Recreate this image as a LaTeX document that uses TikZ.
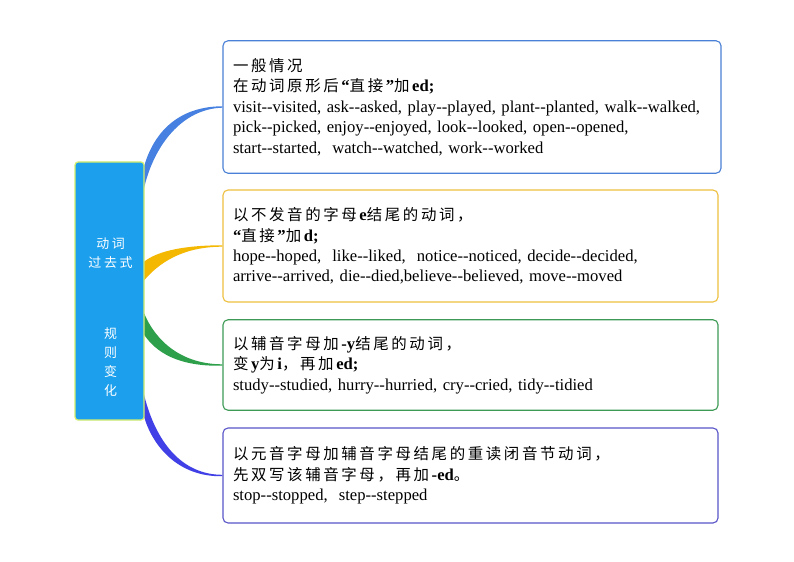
\documentclass[tikz,border=0pt]{standalone}
\usepackage{fontspec}
\setmainfont{Liberation Serif}
\newfontfamily\cjkfont[LetterSpace=17]{Noto Sans CJK SC}
\newfontfamily\cjkwide[LetterSpace=20]{Noto Sans CJK SC}
\usetikzlibrary{calc,backgrounds}
\newcommand\dd{-\kern0pt-}
\newcommand\zh[1]{{\fontsize{15.5}{20.5}\cjkfont #1}}
\definecolor{mainfill}{HTML}{1CA0EE}
\definecolor{mainedge}{HTML}{D5EE6B}
\definecolor{cblue}{HTML}{4680E0}
\definecolor{eblue}{HTML}{4A80D6}
\definecolor{cyellow}{HTML}{F4B800}
\definecolor{eyellow}{HTML}{EEC040}
\definecolor{cgreen}{HTML}{2E9F4B}
\definecolor{egreen}{HTML}{3D9A55}
\definecolor{cpurple}{HTML}{4040E6}
\definecolor{epurple}{HTML}{5A55C8}
\begin{document}
\begin{tikzpicture}[x=1bp,y=-1bp,
  box/.style={draw, rounded corners=5bp, line width=1.1bp, fill=white, align=left,
    inner sep=0pt, font=\fontsize{16.7}{20.5}\selectfont},
  mainbox/.style={draw=mainedge, fill=mainfill, rounded corners=3bp, line width=1.2bp,
    minimum width=69bp, minimum height=258bp, inner sep=0pt},
  maintext/.style={text=white, align=center, font=\fontsize{13}{19}\cjkwide}]
\useasboundingbox (0,0) rectangle (794,562);

\node[mainbox] (main) at (109.5,291) {};
\node[maintext] (mtext) at (110.5,317) {动词\\过去式\\[52pt]规\\则\\变\\化};

\node[box, draw=eblue, minimum width=498bp, minimum height=132.5bp, text width=478bp] (b1) at (472,107) {%
\zh{一般情况}\\
\zh{在动词原形后}\textbf{“}\zh{直接}\textbf{”}\zh{加}\textbf{ed;}\\
visit\dd visited, ask\dd asked, play\dd played, plant\dd planted, walk\dd walked,\\
pick\dd picked, enjoy\dd enjoyed, look\dd looked, open\dd opened,\\
start\dd started,\ \ watch\dd watched, work\dd worked};

\node[box, draw=eyellow, minimum width=495bp, minimum height=112bp, text width=475bp] (b2) at (470.5,246) {%
\zh{以不发音的字母}\textbf{e}\zh{结尾的动词，}\\
\textbf{“}\zh{直接}\textbf{”}\zh{加}\textbf{d;}\\
hope\dd hoped,\ \ like\dd liked,\ \ notice\dd noticed, decide\dd decided,\\
arrive\dd arrived, die\dd died,believe\dd believed, move\dd moved};

\node[box, draw=egreen, minimum width=495bp, minimum height=90.5bp, text width=475bp] (b3) at (470.5,365) {%
\zh{以辅音字母加}\textbf{-y}\zh{结尾的动词，}\\
\zh{变}\textbf{y}\zh{为}\textbf{i}\zh{，再加}\textbf{ed;}\\
study\dd studied, hurry\dd hurried, cry\dd cried, tidy\dd tidied};

\node[box, draw=epurple, minimum width=495bp, minimum height=95bp, text width=475bp] (b4) at (470.5,475.5) {%
\zh{以元音字母加辅音字母结尾的重读闭音节动词，}\\
\zh{先双写该辅音字母，再加}\textbf{-ed}\zh{。}\\
stop\dd stopped,\ \ step\dd stepped};

\begin{scope}[on background layer]
\fill[white] (0,0) rectangle (794,562);
\fill[cblue] ($(main.east)+(-1,-123)$) .. controls +(11,-40) and +(-40,0) .. ($(b1.west)+(0,-0.7)$)
  -- ($(b1.west)+(0,0.7)$) .. controls +(-40,1) and +(10,-45) .. ($(main.east)+(-1,-101)$) -- cycle;
\fill[cyellow] ($(main.east)+(-1,-29)$) .. controls +(15,-12) and +(-35,0) .. ($(b2.west)+(0,-0.7)$)
  -- ($(b2.west)+(0,0.7)$) .. controls +(-40,0) and +(15,-18) .. ($(main.east)+(-1,-10)$) -- cycle;
\fill[cgreen] ($(main.east)+(-1,21)$) .. controls +(12,30) and +(-40,0) .. ($(b3.west)+(0,-0.7)$)
  -- ($(b3.west)+(0,0.7)$) .. controls +(-45,1) and +(12,18) .. ($(main.east)+(-1,43)$) -- cycle;
\fill[cpurple] ($(main.east)+(-1,102)$) .. controls +(12,50) and +(-40,0) .. ($(b4.west)+(0,-0.7)$)
  -- ($(b4.west)+(0,0.7)$) .. controls +(-45,1) and +(8,30) .. ($(main.east)+(-1,124)$) -- cycle;
\end{scope}
\end{tikzpicture}
\end{document}
